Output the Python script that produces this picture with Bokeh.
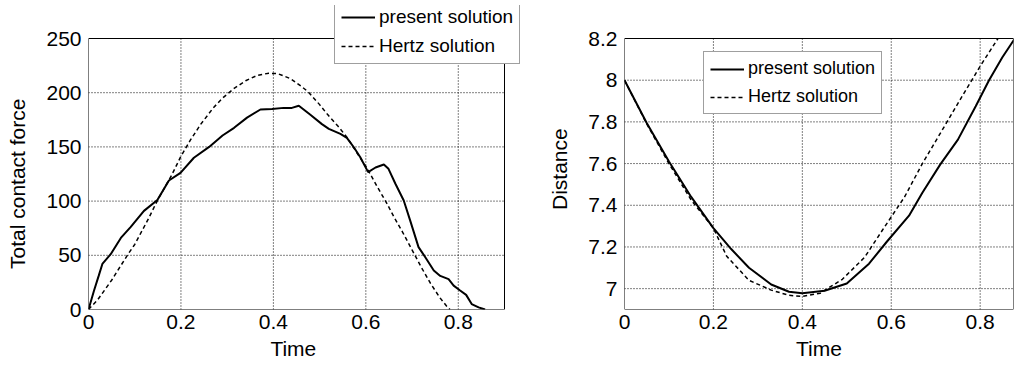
from bokeh.plotting import figure
from bokeh.models import Legend, LegendItem, FixedTicker, Range1d, BoxAnnotation
from bokeh.layouts import row
from bokeh.embed import file_html
from bokeh.resources import INLINE

# ---- Left panel: total contact force ----
t_present_force = [0, 0.012, 0.022, 0.030, 0.048, 0.070, 0.091, 0.120, 0.149, 0.174, 0.199,
                   0.228, 0.261, 0.290, 0.315, 0.343, 0.372, 0.397, 0.422, 0.440, 0.455,
                   0.480, 0.505, 0.520, 0.545, 0.559, 0.574, 0.588, 0.605, 0.621, 0.639,
                   0.649, 0.664, 0.682, 0.696, 0.714, 0.729, 0.747, 0.761, 0.779, 0.790,
                   0.804, 0.817, 0.829, 0.844, 0.858]
f_present = [0, 17.5, 31, 42, 51, 66, 76, 91, 101, 119, 126,
             140, 150, 160.5, 167.6, 177, 184.5, 185, 186, 186, 188,
             179.6, 171, 166.7, 162, 158.4, 149.7, 140.5, 126.7, 131, 133.8,
             129.8, 116, 100.5, 82, 57.5, 48, 36, 31, 28, 22,
             17.5, 13.5, 5, 2, 0]

t_hertz_force = [0, 0.02, 0.05, 0.084, 0.1, 0.13, 0.149, 0.18, 0.199, 0.22, 0.243, 0.27,
                 0.29, 0.315, 0.34, 0.365, 0.39, 0.41, 0.437, 0.46, 0.476, 0.5, 0.516,
                 0.54, 0.559, 0.58, 0.603, 0.625, 0.646, 0.66, 0.68, 0.70, 0.72, 0.74,
                 0.76, 0.775, 0.782]
f_hertz = [0, 9, 27, 50, 60, 84, 100.5, 124, 140.5, 156, 171, 186,
           195, 204, 211, 216, 218, 217.5, 213, 206, 200.5, 189, 180.5,
           169, 159, 145, 130, 113, 97.5, 86, 71, 55, 39, 24,
           11, 3, 0]

# ---- Right panel: distance ----
t_present_dist = [0, 0.05, 0.1, 0.15, 0.2, 0.24, 0.28, 0.33, 0.37, 0.40, 0.45, 0.50, 0.55,
                  0.59, 0.64, 0.67, 0.71, 0.75, 0.79, 0.82, 0.85, 0.878]
d_present = [8.0, 7.795, 7.61, 7.44, 7.29, 7.19, 7.1, 7.02, 6.985, 6.978, 6.99, 7.025, 7.12,
             7.225, 7.35, 7.46, 7.595, 7.715, 7.875, 8.0, 8.11, 8.2]

t_hertz_dist = [0, 0.05, 0.1, 0.15, 0.2, 0.23, 0.28, 0.33, 0.37, 0.40, 0.44, 0.49, 0.54,
                0.58, 0.63, 0.67, 0.72, 0.76, 0.80, 0.84]
d_hertz = [8.0, 7.79, 7.6, 7.425, 7.29, 7.155, 7.04, 6.993, 6.968, 6.963, 6.978, 7.045, 7.15,
           7.28, 7.44, 7.6, 7.78, 7.925, 8.067, 8.2]

x_ticks = [0, 0.2, 0.4, 0.6, 0.8]
force_ticks = [0, 50, 100, 150, 200, 250]
dist_ticks = [7, 7.2, 7.4, 7.6, 7.8, 8, 8.2]
labels = ["present solution", "Hertz solution"]
x_label = "Time"
y_labels = ["Total contact force", "Distance"]

FORCE_X = (0, 0.9)
FORCE_Y = (0, 250)
DIST_X = (0, 0.875)
DIST_Y = (6.9, 8.2)

FONT = "Liberation Sans"
NBSP = "\u00a0"  # trailing non-breaking spaces nudge a centred axis label along its axis


def boxed_figure(xlim, ylim, box_w, box_h, extra_top, extra_right, border_left,
                 border_right, xt, yt, y_over, xlab, ylab):
    """Figure whose data box is box_w x box_h px; the frame is enlarged by
    extra_top / extra_right px so a legend may stick out of the box."""
    x1 = xlim[1] + extra_right * (xlim[1] - xlim[0]) / box_w
    y1 = ylim[1] + extra_top * (ylim[1] - ylim[0]) / box_h
    p = figure(frame_width=box_w + extra_right, frame_height=box_h + extra_top,
               min_border_left=border_left, min_border_right=border_right,
               min_border_top=5, min_border_bottom=56,
               x_range=Range1d(xlim[0], x1), y_range=Range1d(ylim[0], y1),
               output_backend="svg", toolbar_location=None)
    p.xaxis.ticker = FixedTicker(ticks=xt)
    p.yaxis.ticker = FixedTicker(ticks=yt)
    p.xaxis.major_label_overrides = {0: "0"}
    p.yaxis.major_label_overrides = y_over
    p.xaxis.axis_label = xlab
    p.yaxis.axis_label = ylab
    for ax in (p.xaxis[0], p.yaxis[0]):
        ax.axis_line_color = None
        ax.major_tick_in = 0
        ax.major_tick_out = 0
        ax.minor_tick_in = 0
        ax.minor_tick_out = 0
        ax.major_label_text_font = FONT
        ax.major_label_text_font_size = "21px"
        ax.major_label_text_color = "black"
        ax.axis_label_text_font = FONT
        ax.axis_label_text_font_size = "21px"
        ax.axis_label_text_font_style = "normal"
        ax.axis_label_text_color = "black"
    p.xaxis.major_label_standoff = 5
    p.xaxis.axis_label_standoff = 5
    p.yaxis.major_label_standoff = 7
    p.yaxis.axis_label_standoff = 14
    p.background_fill_color = "white"
    p.border_fill_color = "white"
    p.grid.visible = False
    p.outline_line_color = None
    gx = [t for t in xt if xlim[0] < t < xlim[1]]
    p.segment(x0=gx, x1=gx, y0=[ylim[0]] * len(gx), y1=[ylim[1]] * len(gx),
              line_color="black", line_width=1, line_dash="1 2")
    gy = [t for t in yt if ylim[0] < t < ylim[1]]
    p.segment(x0=[xlim[0]] * len(gy), x1=[xlim[1]] * len(gy), y0=gy, y1=gy,
              line_color="black", line_width=1, line_dash="1 2")
    return p


def add_box(p, xlim, ylim):
    p.add_layout(BoxAnnotation(left=xlim[0], right=xlim[1], bottom=ylim[0], top=ylim[1],
                               fill_color=None, fill_alpha=0, line_color="black",
                               line_width=1, line_alpha=1))


def add_legend(p, r1, r2, loc, size):
    leg = Legend(items=[LegendItem(label=labels[0], renderers=[r1]),
                        LegendItem(label=labels[1], renderers=[r2])],
                 location=loc)
    leg.label_text_font = FONT
    leg.label_text_font_size = size
    leg.label_text_color = "black"
    leg.glyph_width = 34
    leg.glyph_height = 20
    leg.label_height = 20
    leg.label_standoff = 4
    leg.spacing = 7
    leg.padding = 6
    leg.margin = 0
    leg.border_line_color = "#404040"
    leg.border_line_width = 1
    leg.background_fill_color = "white"
    leg.background_fill_alpha = 1
    p.add_layout(leg)


p1 = boxed_figure(FORCE_X, FORCE_Y, 416, 271, 33, 17, 88, 9,
                  x_ticks, force_ticks, {},
                  x_label + NBSP * 4, y_labels[0] + NBSP * 9)
a1 = p1.line(t_present_force, f_present, line_color="black", line_width=2)
b1 = p1.line(t_hertz_force, f_hertz, line_color="black", line_width=1.5, line_dash="4 3")
add_box(p1, FORCE_X, FORCE_Y)
add_legend(p1, a1, b1, (246, 245), "19px")

p2 = boxed_figure(DIST_X, DIST_Y, 389, 271, 33, 0, 94, 1,
                  x_ticks, dist_ticks, {7: "7", 8: "8"},
                  x_label, y_labels[1] + NBSP * 4)
a2 = p2.line(t_present_dist, d_present, line_color="black", line_width=2)
b2 = p2.line(t_hertz_dist, d_hertz, line_color="black", line_width=1.5, line_dash="4 3")
add_box(p2, DIST_X, DIST_Y)
add_legend(p2, a2, b2, (79, 195), "18px")

layout = row(p1, p2)
open("out.html", "w").write(file_html(layout, INLINE))
